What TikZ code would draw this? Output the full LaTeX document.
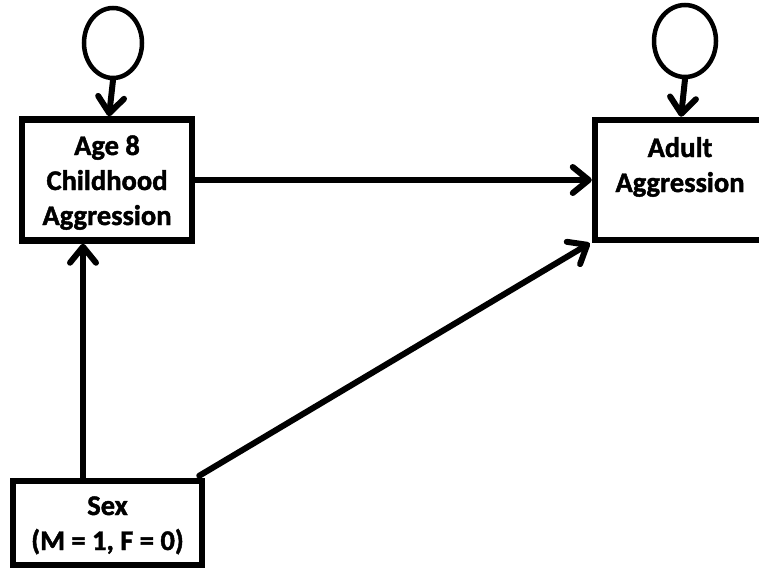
\documentclass[tikz,border=0pt]{standalone}
\usepackage{fontspec}
\setmainfont{Carlito}
\newfontfamily\boxfont{Carlito}[BoldFeatures={FakeBold=1.5}]
\usetikzlibrary{arrows.meta,shapes.geometric,calc}
\tikzset{
  boxnode/.style={draw, line width=6.5pt, rectangle, align=center,
    font=\boxfont\fontsize{28.5}{35}\selectfont\bfseries, inner sep=0pt, text depth=0pt},
  errnode/.style={draw, line width=4.5pt, ellipse, inner sep=0pt},
  arr/.style={line width=6pt, line cap=round,
    -{Straight Barb[length=16pt,width=26pt,line width=6pt,round]}}
}
\begin{document}
\begin{tikzpicture}[x=1pt,y=-1pt]
\useasboundingbox (0,0) rectangle (759,568);
\fill[white] (0,0) rectangle (759,568);
\begin{scope}
\clip (0,0) rectangle (759,568);
\node[errnode, minimum width=58pt, minimum height=70pt] (c1) at (113,43) {};
\node[errnode, minimum width=62pt, minimum height=72pt] (c2) at (685,41) {};
\node[boxnode, minimum width=170pt, minimum height=121pt, text height=90pt] (age) at (107,180) {Age 8\\Childhood\\Aggression};
\node[boxnode, minimum width=170pt, minimum height=120pt, text height=24pt] (adult) at (680,180) {Adult\\Aggression};
\node[boxnode, minimum width=189pt, minimum height=84pt, text height=54pt] (sex) at (107.5,523) {Sex\\(M = 1, F = 0)};
\draw[arr] (c1.south) -- ([xshift=-4pt]c1.south |- age.north);
\draw[arr] (c2.south) -- ([xshift=-4pt]c2.south |- adult.north);
\draw[arr] (age.east) -- (adult.west);
\draw[arr] ([xshift=-24.5pt]sex.north) -- ([xshift=-24.5pt]sex.north |- age.south);
\draw[arr] ([xshift=-6pt,yshift=2pt]sex.north east) -- ([xshift=-2pt]adult.south west);
\end{scope}
\end{tikzpicture}
\end{document}
